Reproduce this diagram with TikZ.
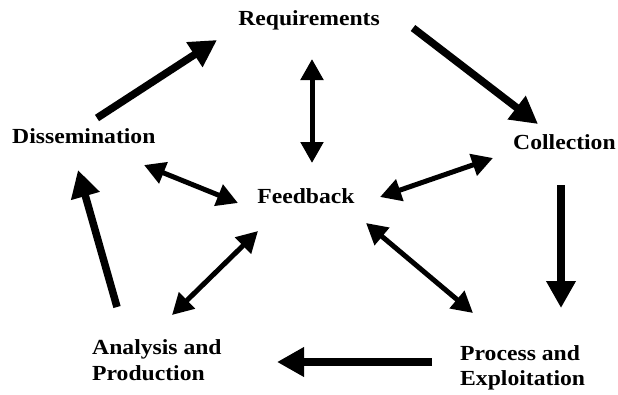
\documentclass[tikz,border=0pt]{standalone}
\usepackage{fontspec}
\setmainfont{Liberation Serif}[FakeStretch=1.1]
\usetikzlibrary{arrows.meta}
\begin{document}
\begin{tikzpicture}[x=1pt,y=-1pt,
  label/.style={font=\fontsize{21.5}{25.5}\selectfont\bfseries, inner sep=0pt, align=left},
  cycle/.style={line width=7.5pt, -{Triangle[length=27pt,width=28pt]}},
  fb/.style={line width=5pt, {Triangle[length=21pt,width=22pt]}-{Triangle[length=21pt,width=22pt]}}]
  \useasboundingbox (0,0) rectangle (618,394);

  % stage labels
  \node[label, anchor=base] (req) at (309,25) {Requirements};
  \node[label, anchor=base west] (dis) at (12,143) {Dissemination};
  \node[label, anchor=base west] (col) at (513,149) {Collection};
  \node[label, anchor=base] (fb) at (306,203) {Feedback};
  \node[label, anchor=west] (ana) at (92,360) {Analysis and\\Production};
  \node[label, anchor=west] (pro) at (460,368) {Process and\\Exploitation};

  % arrow end points
  \coordinate (c1a) at (97,118);  \coordinate (c1b) at (217,40);
  \coordinate (c2a) at (413,28);  \coordinate (c2b) at (538,124);
  \coordinate (c3a) at (561,185); \coordinate (c3b) at (561,308);
  \coordinate (c4a) at (432,362); \coordinate (c4b) at (277,362);
  \coordinate (c5a) at (117,307); \coordinate (c5b) at (78,170);

  \coordinate (f1a) at (312,59);  \coordinate (f1b) at (312,163);
  \coordinate (f2a) at (144,165); \coordinate (f2b) at (238,203);
  \coordinate (f3a) at (380,197); \coordinate (f3b) at (493,158);
  \coordinate (f4a) at (258,231); \coordinate (f4b) at (172,315);
  \coordinate (f5a) at (366,223); \coordinate (f5b) at (473,313);

  % intelligence cycle
  \draw[cycle] (c1a) -- (c1b);
  \draw[cycle] (c2a) -- (c2b);
  \draw[cycle] (c3a) -- (c3b);
  \draw[cycle] (c4a) -- (c4b);
  \draw[cycle] (c5a) -- (c5b);

  % feedback links
  \draw[fb] (f1a) -- (f1b);
  \draw[fb] (f2a) -- (f2b);
  \draw[fb] (f3a) -- (f3b);
  \draw[fb] (f4a) -- (f4b);
  \draw[fb] (f5a) -- (f5b);
\end{tikzpicture}
\end{document}
